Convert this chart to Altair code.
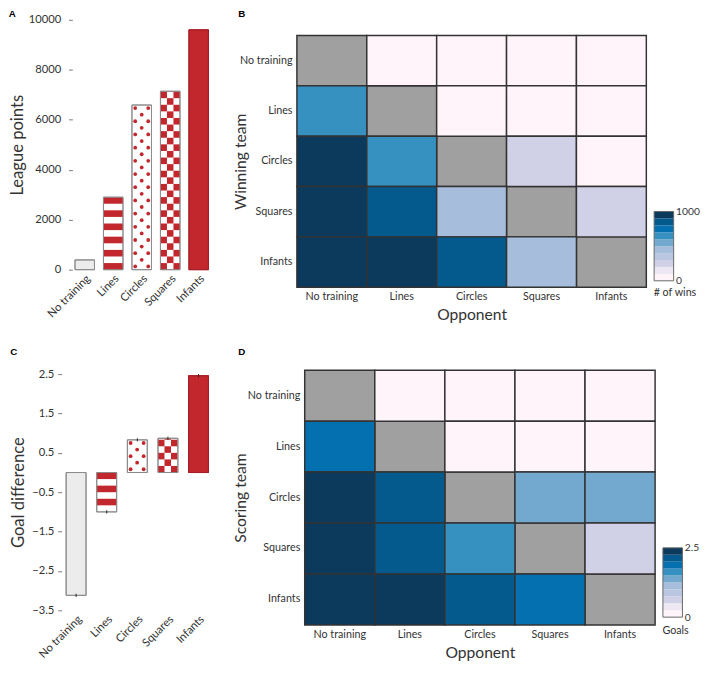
import altair as alt
import pandas as pd

# ---------------- data ----------------
teams = ["No training", "Lines", "Circles", "Squares", "Infants"]
league_points = [390, 2900, 6590, 7140, 9600]
goal_difference = [-3.12, -1.00, 0.83, 0.87, 2.46]
goal_difference_err = [0.04, 0.04, 0.04, 0.04, 0.04]
bar_pattern = ["plain", "lines", "circles", "squares", "solid"]
bar_fill = ["#ececec", "#ffffff", "#ffffff", "#ffffff", "#c1272d"]
bar_stroke = ["#8c8c8c", "#8c8c8c", "#8c8c8c", "#8c8c8c", "#a81e26"]

# rows = winning / scoring team, columns = opponent (None on the diagonal)
wins = [
    [None, 20, 10, 10, 5],
    [650, None, 30, 20, 10],
    [980, 640, None, 230, 40],
    [990, 850, 420, None, 250],
    [1000, 970, 860, 430, None],
]
goals = [
    [None, 0.05, 0.05, 0.05, 0.05],
    [1.85, None, 0.05, 0.05, 0.05],
    [2.40, 2.10, None, 1.35, 1.35],
    [2.40, 2.10, 1.60, None, 0.60],
    [2.45, 2.40, 2.10, 1.85, None],
]
heat_colors = ["#fff4fa", "#ece7f2", "#d0d1e6", "#bac7e1", "#a6bddb",
               "#74a9cf", "#3690c0", "#0570b0", "#045a8d", "#0b3a5c"]

RED = "#c1272d"
FONT = "Lato"
TXT = "#333333"


def letter_title(letter, offset, dx=0):
    return alt.TitleParams(letter, anchor="start", font="Liberation Sans", fontSize=10,
                           fontWeight="bold", color="#000000", offset=offset, dx=dx)


def bar_panel(values, errs, letter, ytitle, ydomain, yticks, yfmt, width, height, top_pad,
              pad_inner, pad_outer, unit, title_offset, title_pad, label_pad, axis_offset):
    df = pd.DataFrame({"team": teams, "v": values, "err": errs,
                       "pattern": bar_pattern, "fill": bar_fill, "stroke": bar_stroke})
    total_h = height + top_pad
    yscale = alt.Scale(domain=ydomain, nice=False, zero=False, range=[total_h, top_pad])
    xscale = alt.Scale(paddingInner=pad_inner, paddingOuter=pad_outer)
    x = alt.X("team:N", sort=teams, scale=xscale, title=None,
              axis=alt.Axis(labelAngle=315, domain=False, ticks=False, labelPadding=3,
                            labelFontSize=11.5))
    yaxis = alt.Axis(values=yticks, format=yfmt, grid=False, domain=False, tickSize=4,
                     tickColor="#777777", labelPadding=label_pad, labelFontSize=11.5,
                     titleFontSize=17, titleFontWeight="normal", titlePadding=title_pad,
                     offset=axis_offset)
    offs = alt.XOffset("c:N", scale=alt.Scale(domain=[0, 1, 2], paddingInner=0, paddingOuter=0))
    base = alt.Chart(df).encode(x=x)

    def Y(field, axis=None):
        if axis is None:
            return alt.Y(field, scale=yscale, title=ytitle)
        return alt.Y(field, scale=yscale, title=ytitle, axis=axis)

    bars = base.mark_bar(strokeWidth=1).encode(
        y=Y("v:Q", yaxis), y2=alt.datum(0),
        fill=alt.Fill("fill:N", scale=None), stroke=alt.Stroke("stroke:N", scale=None))

    sign = "(datum.v < 0 ? -1 : 1)"

    def rows(pat):
        return (base.transform_filter(f"datum.pattern == '{pat}'")
                .transform_calculate(k=f"sequence(0, ceil(abs(datum.v) / {unit}))")
                .transform_flatten(["k"])
                .transform_calculate(
                    y0=f"{sign} * datum.k * {unit}",
                    y1=f"{sign} * min((datum.k + 1) * {unit}, abs(datum.v))",
                    yc=f"{sign} * (datum.k + 0.5) * {unit}"))

    stripes = rows("lines").transform_filter("datum.k % 2 == 0").mark_bar(color=RED).encode(
        y=Y("y0:Q"), y2="y1:Q")
    checker = (rows("squares").transform_calculate(c="[0, 1, 2]").transform_flatten(["c"])
               .transform_filter("(datum.k + datum.c) % 2 == 0")
               .mark_bar(color=RED).encode(y=Y("y0:Q"), y2="y1:Q", xOffset=offs))
    dots = (rows("circles").transform_filter("abs(datum.yc) < abs(datum.v)")
            .transform_calculate(c="datum.k % 2 == 0 ? [0, 2] : [1]").transform_flatten(["c"])
            .mark_circle(color=RED, size=15, opacity=1).encode(y=Y("yc:Q"), xOffset=offs))
    outline = base.mark_bar(fillOpacity=0, strokeWidth=1).encode(
        y=Y("v:Q"), y2=alt.datum(0), stroke=alt.Stroke("stroke:N", scale=None))
    layers = [bars, stripes, checker, dots, outline]
    if errs is not None:
        err = (base.transform_calculate(lo="datum.v - datum.err", hi="datum.v + datum.err")
               .mark_rule(color="#222222", strokeWidth=1).encode(y=Y("lo:Q"), y2="hi:Q"))
        layers.append(err)
    return alt.layer(*layers).properties(width=width, height=total_h,
                                         title=letter_title(letter, title_offset))


def heat_panel(matrix, vmax, letter, ytitle, width, height, top_pad, title_offset, title_x,
               leg_title, leg_fmt, leg_h, leg_gap):
    recs = []
    for i, t in enumerate(teams):
        for j, o in enumerate(teams):
            recs.append({"team": t, "opponent": o, "value": matrix[i][j]})
    df = pd.DataFrame(recs)
    total_h = height + top_pad
    cscale = alt.Scale(type="quantize", domain=[0, vmax], range=heat_colors, nice=False)
    x = alt.X("opponent:N", sort=teams, title="Opponent",
              scale=alt.Scale(paddingInner=0, paddingOuter=0),
              axis=alt.Axis(domain=False, ticks=False, labelAngle=0, labelPadding=4,
                            labelFontSize=11, titleFontSize=16, titleFontWeight="normal",
                            titlePadding=5))
    y = alt.Y("team:N", sort=teams, title=ytitle,
              scale=alt.Scale(paddingInner=0, paddingOuter=0, range=[top_pad, total_h]),
              axis=alt.Axis(domain=False, ticks=False, labelPadding=5, labelFontSize=11,
                            titleFontSize=16, titleFontWeight="normal", titleX=title_x))
    base = alt.Chart(df).encode(x=x, y=y)
    diag = base.transform_filter("!isValid(datum.value)").mark_rect(
        fill="#a0a0a0", stroke="#333333", strokeWidth=1.5)
    cells = base.transform_filter("isValid(datum.value)").mark_rect(
        stroke="#333333", strokeWidth=1.5).encode(
        fill=alt.Fill("value:Q", scale=cscale, legend=None))
    heat = alt.layer(diag, cells).properties(width=width, height=total_h,
                                             title=letter_title(letter, title_offset, 6))

    n = len(heat_colors)
    step = vmax / n
    lscale = alt.Scale(domain=[-leg_gap / leg_h * vmax, (total_h - leg_gap) / leg_h * vmax],
                       nice=False, zero=False)
    bands = (alt.Chart(alt.sequence(0, n, as_="i"))
             .transform_calculate(lo=f"datum.i * {step}", hi=f"(datum.i + 1) * {step}",
                                  mid=f"(datum.i + 0.5) * {step}")
             .mark_rect().encode(
                 y=alt.Y("lo:Q", scale=lscale, title=None,
                         axis=alt.Axis(orient="right", values=[0, vmax], format=leg_fmt,
                                       domain=False, ticks=False, grid=False, labelPadding=2,
                                       labelFontSize=10.5)),
                 y2="hi:Q",
                 fill=alt.Fill("mid:Q", scale=cscale, legend=None)))
    box = alt.Chart(alt.Data(values=[{"lo": 0, "hi": vmax}])).mark_rect(
        fillOpacity=0, stroke="#666666", strokeWidth=1).encode(
        y=alt.Y("lo:Q", scale=lscale, title=None), y2="hi:Q")
    leg = alt.layer(bands, box).properties(
        width=20, height=total_h,
        title=alt.TitleParams(leg_title, orient="bottom", anchor="start", font=FONT,
                              fontSize=11, fontWeight="normal", color=TXT, offset=0))
    return alt.hconcat(heat, leg, spacing=6)


panel_a = bar_panel(league_points, None, "A", "League points", [0, 10000],
                    [0, 2000, 4000, 6000, 8000, 10000], "d", 164, 256, 0,
                    0.315, 0.466, 264, -5, 2, 8, -11)
panel_c = bar_panel(goal_difference, goal_difference_err, "C", "Goal difference", [-3.5, 2.5],
                    [-3.5, -2.5, -1.5, -0.5, 0.5, 1.5, 2.5], ".1f", 155, 242, 17,
                    0.35, 0.146, 1 / 6, 1, 4, 4, 0)
panel_b = heat_panel(wins, 1000, "B", "Winning team", 358, 258, 16, 1, -50,
                     "# of wins", "d", 71, 6.6)
panel_d = heat_panel(goals, 2.5, "D", "Scoring team", 359, 261, 13, 1, -58,
                     "Goals", ".1~f", 71, 8)

row1 = alt.hconcat(panel_a, panel_b, spacing=11)
row2 = alt.hconcat(panel_c, panel_d, spacing=20)
chart = (alt.vconcat(row1, row2, spacing=25)
         .resolve_scale(fill="independent")
         .properties(padding={"left": 0, "top": -7, "right": 0, "bottom": 0})
         .configure_view(strokeWidth=0)
         .configure_axis(labelFont=FONT, titleFont=FONT, labelColor=TXT, titleColor=TXT))

chart.save("out.html", embed_options={"renderer": "svg", "actions": False})
